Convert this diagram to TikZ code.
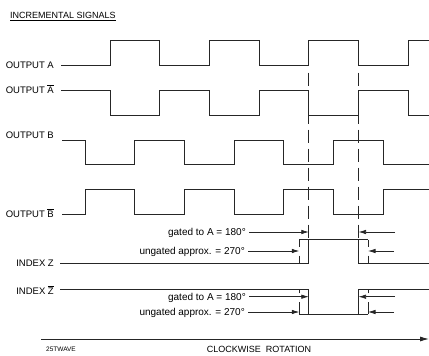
\documentclass[tikz,border=0pt]{standalone}
\usepackage{fontspec}
\setmainfont{Liberation Sans}
\usetikzlibrary{arrows.meta}

\begin{document}
\begin{tikzpicture}[
  x=1pt, y=-1pt,
  wave/.style = {line width=0.9pt, black!85},
  guide/.style = {line width=0.8pt, black!85, dash pattern=on 13pt off 6pt},
  ungated/.style = {line width=0.8pt, black!85, dash pattern=on 7pt off 9pt},
  pointer/.style = {line width=0.7pt, black!85, -{Latex[length=7.5pt,width=4.5pt]}},
  lbl/.style = {anchor=base east, inner sep=0pt, font=\fontsize{9.5}{11}\selectfont},
  note/.style = {anchor=base east, inner sep=0pt, font=\fontsize{10}{11}\selectfont}
]
  \useasboundingbox (0,0) rectangle (429,356);

  % title
  \node[anchor=base west, inner sep=0pt, font=\fontsize{9}{10}\selectfont] (title) at (10,18.6) {\underline{INCREMENTAL SIGNALS}};

  % signal names
  \node[lbl] (outA)  at (54,68.4)  {OUTPUT A};
  \node[lbl] (outAb) at (54,93.4)  {OUTPUT $\overline{\mbox{A}}$};
  \node[lbl] (outB)  at (54,138.9) {OUTPUT B};
  \node[lbl] (outBb) at (54,217.5) {OUTPUT $\overline{\mbox{B}}$};
  \node[lbl] (idxZ)  at (54,266.7) {INDEX Z};
  \node[lbl] (idxZb) at (54,294.4) {INDEX $\overline{\mbox{Z}}$};

  % square waves
  \draw[wave] (61,65) -| (110,40.7) -| (159.7,65) -| (209.4,40.7) -| (259.1,65) -| (308.8,40.7) -| (358.5,65) -| (408.2,40.7) -- (429,40.7);
  \draw[wave] (61,90) -| (110,115) -| (159.7,90) -| (209.4,115) -| (259.1,90) -| (308.8,115) -| (358.5,90) -| (408.2,115) -- (429,115);
  \draw[wave] (62,140) -| (85,164) -| (134.7,140) -| (184.4,164) -| (234.1,140) -| (283.8,164) -| (333.5,140) -| (383.2,164) -- (429,164);
  \draw[wave] (62,214) -| (85,189.3) -| (134.7,214) -| (184.4,189.3) -| (234.1,214) -| (283.8,189.3) -| (333.5,214) -| (383.2,189.3) -- (429,189.3);

  % index pulses
  \draw[wave] (60,263.3) -| (308.8,239.5) -| (358.5,263.3) -- (429,263.3);
  \draw[wave] (60,289.3) -| (308.8,314.3) -| (358.5,289.3) -- (429,289.3);

  % ungated edges
  \draw[wave] (308.8,239.5) -- (299.3,239.5);
  \draw[wave] (358.5,239.5) -- (368,239.5);
  \draw[ungated] (299.3,239.5) -- (299.3,263.3);
  \draw[ungated] (368,239.5) -- (368,263.3);
  \draw[wave] (308.8,314.3) -- (299.3,314.3);
  \draw[wave] (358.5,314.3) -- (368,314.3);
  \draw[ungated, dash pattern=on 12pt off 9pt] (299.3,314.3) -- (299.3,289.3);
  \draw[ungated, dash pattern=on 12pt off 9pt] (368,314.3) -- (368,289.3);

  % gate guides
  \foreach \x in {308.8,358.5}
    \draw[guide] (\x,72.7) -- (\x,239.5);

  % notes, index Z
  \node[note] (gZ) at (246,235.6) {gated to A = 180°};
  \node[note] (uZ) at (245,254.6) {ungated approx. = 270°};
  \coordinate (gZl) at (308.8,232);
  \coordinate (uZl) at (299.3,251);
  \coordinate (gZr) at (358.5,232);
  \coordinate (uZr) at (368,251);
  \coordinate (gZo) at (395,232);
  \coordinate (uZo) at (394,251);
  \draw[pointer] ([xshift=3pt]gZ.base east) ++(0,-3.6) -- (gZl);
  \draw[pointer] ([xshift=3pt]uZ.base east) ++(0,-3.6) -- (uZl);
  \draw[pointer] (gZo) -- (gZr);
  \draw[pointer] (uZo) -- (uZr);

  % notes, index Z bar
  \node[note] (gZb) at (246,300.3) {gated to A = 180°};
  \node[note] (uZb) at (245,315.6) {ungated approx. = 270°};
  \coordinate (gZbl) at (308.8,296.7);
  \coordinate (uZbl) at (299.3,312);
  \coordinate (gZbr) at (358.5,296.7);
  \coordinate (uZbr) at (368,312);
  \coordinate (gZbo) at (395,296.7);
  \coordinate (uZbo) at (394,312);
  \draw[pointer] ([xshift=3pt]gZb.base east) ++(0,-3.6) -- (gZbl);
  \draw[pointer] ([xshift=3pt]uZb.base east) ++(0,-3.6) -- (uZbl);
  \draw[pointer] (gZbo) -- (gZbr);
  \draw[pointer] (uZbo) -- (uZbr);

  % rotation axis
  \coordinate (rotL) at (41,339);
  \coordinate (rotR) at (429,339);
  \draw[line width=0.9pt, black!85, -{Latex[length=9pt,width=5pt]}] (rotL) -- (rotR);
  \node[inner sep=0pt, font=\fontsize{9}{10}\selectfont] (rot) at (259,349) {CLOCKWISE\ \ ROTATION};
  \node[inner sep=0pt, font=\fontsize{6.5}{7}\selectfont] (fig) at (61,349.5) {25TWAVE};
\end{tikzpicture}
\end{document}
